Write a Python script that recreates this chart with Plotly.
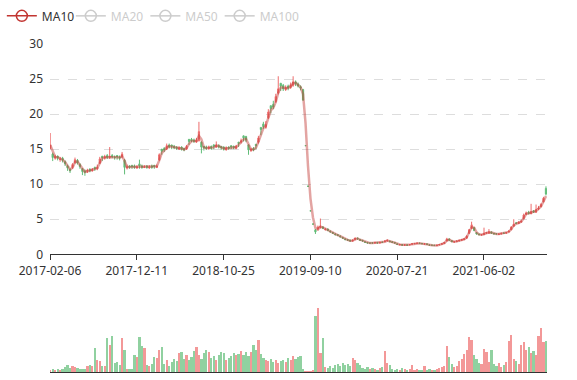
import plotly.graph_objects as go
import pandas as pd

# ---- data (every 6th trading day) ----
step = 6
n_days = 1203
label_index = [0, 210, 420, 630, 840, 1050]
label_text = ["2017-02-06", "2017-12-11", "2018-10-25", "2019-09-10", "2020-07-21", "2021-06-02"]

opens = [
    15.1, 14.3, 13.7, 14.0, 13.5, 13.7, 13.2, 12.6, 12.1, 12.4,
    13.1, 13.4, 12.8, 12.2, 11.9, 11.8, 12.1, 11.9, 12.4, 12.2,
    13.0, 14.0, 13.7, 14.1, 13.8, 14.1, 13.9, 14.1, 13.9, 13.9,
    13.4, 12.3, 12.6, 12.7, 12.6, 12.3, 12.9, 12.6, 12.4, 12.6,
    12.3, 12.6, 12.7, 12.4, 13.5, 15.0, 15.1, 15.0, 15.6, 15.6,
    15.4, 15.3, 15.0, 15.3, 15.1, 15.0, 16.4, 16.4, 16.3, 16.0,
    16.2, 16.0, 15.4, 15.3, 15.1, 15.4, 15.6, 15.3, 15.5, 15.4,
    15.3, 14.9, 15.3, 15.5, 15.4, 15.1, 16.0, 16.0, 16.9, 16.8,
    15.6, 14.8, 15.1, 15.7, 16.0, 18.1, 18.6, 18.1, 19.5, 21.2,
    21.4, 21.8, 23.0, 24.4, 24.1, 23.5, 24.0, 23.8, 24.1, 24.6,
    24.3, 23.9, 23.5, 15.5, 9.7, 6.2, 4.3, 3.5, 3.6, 3.8,
    3.9, 3.5, 3.6, 3.3, 3.1, 2.9, 2.8, 2.6, 2.4, 2.2,
    2.1, 2.0, 1.9, 2.1, 2.3, 2.1, 2.0, 1.8, 1.7, 1.6,
    1.65, 1.6, 1.7, 1.6, 1.75, 1.8, 1.9, 1.9, 1.8, 1.7,
    1.5, 1.35, 1.4, 1.3, 1.35, 1.35, 1.45, 1.5, 1.55, 1.6,
    1.55, 1.45, 1.5, 1.35, 1.3, 1.3, 1.25, 1.35, 1.45, 1.55,
    1.9, 2.2, 1.95, 1.75, 1.8, 1.9, 2.0, 2.1, 2.3, 3.0,
    3.7, 3.8, 3.1, 2.9, 2.75, 2.8, 3.0, 3.0, 3.2, 3.0,
    2.95, 2.85, 2.9, 3.05, 3.0, 3.2, 3.5, 4.0, 4.5, 4.4,
    4.6, 5.1, 5.7, 6.0, 5.8, 6.2, 6.0, 6.5, 6.8, 7.5,
    9.4,
]
closes = [
    15.6, 13.8, 14.0, 13.7, 13.6, 13.4, 12.9, 12.3, 11.9, 12.8,
    13.5, 13.0, 12.5, 11.8, 11.7, 12.0, 11.9, 12.1, 12.2, 12.4,
    13.6, 13.8, 13.9, 13.8, 14.0, 13.9, 13.8, 13.9, 13.7, 14.3,
    12.4, 12.5, 12.4, 12.5, 12.4, 12.5, 12.6, 12.4, 12.5, 12.4,
    12.5, 12.4, 12.5, 12.6, 14.2, 14.7, 14.9, 15.5, 15.3, 15.4,
    15.2, 15.1, 15.2, 15.0, 14.9, 15.4, 16.1, 16.2, 16.1, 16.3,
    17.5, 15.3, 15.2, 15.1, 15.3, 15.1, 15.4, 15.6, 15.3, 15.2,
    15.0, 15.2, 15.1, 15.3, 15.2, 15.4, 15.8, 16.2, 16.6, 16.3,
    14.9, 15.0, 14.9, 15.5, 16.6, 17.8, 18.2, 18.5, 20.3, 20.8,
    21.0, 22.5, 23.6, 24.0, 23.6, 23.8, 23.7, 24.2, 24.6, 24.3,
    24.0, 23.7, 22.0, 15.5, 9.7, 6.2, 4.3, 3.2, 3.9, 4.0,
    3.7, 3.6, 3.4, 3.2, 3.0, 2.8, 2.7, 2.5, 2.3, 2.1,
    2.0, 1.9, 2.0, 2.3, 2.2, 2.0, 1.9, 1.7, 1.6, 1.6,
    1.6, 1.7, 1.6, 1.7, 1.7, 1.9, 2.0, 1.8, 1.7, 1.6,
    1.4, 1.4, 1.3, 1.35, 1.3, 1.4, 1.5, 1.55, 1.6, 1.55,
    1.5, 1.5, 1.4, 1.3, 1.3, 1.25, 1.3, 1.4, 1.5, 1.7,
    2.2, 2.0, 1.8, 1.8, 1.9, 2.0, 2.1, 2.2, 2.6, 3.5,
    4.2, 3.4, 2.9, 2.8, 2.8, 3.0, 3.1, 3.2, 3.0, 2.9,
    2.9, 2.9, 3.0, 3.0, 3.1, 3.3, 3.9, 4.3, 4.4, 4.6,
    4.7, 5.6, 5.9, 5.8, 6.1, 6.0, 6.4, 6.6, 7.1, 8.0,
    8.6,
]
highs = [
    17.3, 14.5, 14.2, 14.1, 13.9, 13.9, 13.4, 12.8, 12.3, 13.0,
    13.8, 13.6, 13.0, 12.3, 12.1, 12.2, 12.3, 12.3, 12.5, 12.8,
    13.9, 14.0, 14.2, 14.3, 15.3, 14.3, 14.1, 14.1, 14.1, 14.6,
    13.6, 12.8, 12.7, 12.7, 12.8, 12.7, 13.5, 12.8, 12.7, 12.7,
    12.7, 12.8, 12.7, 12.8, 14.4, 15.0, 15.3, 15.8, 15.8, 15.6,
    15.6, 15.4, 15.4, 15.4, 15.2, 15.6, 16.4, 16.6, 16.5, 16.6,
    18.9, 16.1, 15.4, 15.5, 15.5, 15.5, 15.7, 16.1, 15.7, 15.4,
    15.4, 15.4, 15.4, 15.5, 15.5, 15.6, 16.0, 16.5, 16.9, 16.9,
    15.7, 15.2, 15.3, 15.7, 16.9, 18.1, 18.9, 19.0, 20.7, 21.2,
    21.9, 22.9, 25.4, 24.4, 24.3, 24.1, 24.2, 24.5, 25.4, 24.8,
    24.5, 24.1, 23.6, 15.5, 9.8, 6.2, 4.4, 3.6, 4.1, 5.1,
    4.0, 3.7, 3.7, 3.4, 3.2, 3.0, 2.9, 2.7, 2.5, 2.3,
    2.2, 2.1, 2.1, 2.4, 2.4, 2.2, 2.05, 1.85, 1.75, 1.7,
    1.7, 1.75, 1.75, 1.75, 1.8, 2.0, 2.1, 1.95, 1.85, 1.75,
    1.55, 1.45, 1.45, 1.4, 1.4, 1.45, 1.55, 1.6, 1.65, 1.65,
    1.6, 1.55, 1.55, 1.4, 1.35, 1.35, 1.35, 1.45, 1.55, 1.75,
    2.35, 2.25, 2.0, 1.85, 1.95, 2.05, 2.15, 2.3, 2.7, 3.6,
    4.65, 3.9, 3.15, 2.95, 2.9, 3.8, 3.2, 3.6, 3.25, 3.05,
    3.0, 2.95, 3.05, 3.1, 3.15, 3.4, 4.0, 5.0, 4.6, 4.7,
    4.9, 5.8, 6.1, 6.2, 7.2, 6.3, 7.1, 6.9, 7.3, 8.2,
    9.7,
]
lows = [
    15.0, 13.3, 13.5, 13.4, 13.2, 13.1, 12.6, 11.9, 11.6, 12.2,
    12.9, 12.8, 12.2, 11.3, 11.2, 11.6, 11.7, 11.8, 11.9, 12.0,
    12.9, 13.3, 13.5, 13.6, 13.6, 13.7, 13.5, 13.5, 13.4, 13.7,
    11.4, 12.1, 12.2, 12.2, 12.2, 12.2, 12.2, 12.2, 12.3, 12.2,
    12.2, 12.2, 12.2, 12.3, 13.3, 14.2, 14.6, 14.9, 15.1, 15.0,
    15.0, 14.9, 14.9, 14.8, 14.7, 14.9, 15.6, 16.0, 15.9, 15.9,
    16.1, 14.4, 14.8, 14.9, 14.9, 14.9, 15.0, 15.2, 15.1, 14.9,
    14.8, 14.8, 14.9, 15.0, 15.0, 15.0, 15.3, 15.8, 16.1, 16.0,
    14.2, 14.6, 14.7, 15.0, 15.8, 17.0, 17.9, 17.9, 19.3, 20.1,
    20.7, 21.6, 22.8, 23.3, 23.3, 23.3, 23.4, 23.6, 23.9, 24.0,
    23.8, 23.4, 21.9, 15.5, 9.6, 6.2, 4.3, 2.9, 3.4, 3.7,
    3.6, 3.4, 3.3, 3.1, 2.9, 2.7, 2.6, 2.4, 2.2, 2.0,
    1.9, 1.8, 1.85, 2.0, 2.1, 1.9, 1.8, 1.65, 1.55, 1.55,
    1.55, 1.55, 1.55, 1.55, 1.65, 1.75, 1.85, 1.75, 1.65, 1.55,
    1.35, 1.3, 1.25, 1.25, 1.25, 1.3, 1.4, 1.45, 1.5, 1.5,
    1.45, 1.4, 1.35, 1.25, 1.25, 1.2, 1.2, 1.3, 1.4, 1.5,
    1.85, 1.95, 1.75, 1.7, 1.75, 1.85, 1.95, 2.05, 2.25, 2.9,
    3.6, 3.3, 2.8, 2.7, 2.7, 2.75, 2.95, 2.95, 2.9, 2.85,
    2.85, 2.8, 2.85, 2.95, 2.95, 3.15, 3.45, 3.95, 4.3, 4.3,
    4.5, 5.0, 5.6, 5.7, 5.7, 5.9, 5.9, 6.3, 6.7, 7.4,
    8.4,
]
volumes = [
    2.5, 3, 2.5, 3, 2.5, 3, 5, 7, 4, 6,
    5, 4, 3, 3, 3, 6, 7, 6, 24, 12,
    11, 6, 6, 34, 27, 36, 9, 10, 7, 34,
    22, 3, 3, 3, 17, 15, 35, 26, 24, 7,
    6, 8, 15, 14, 22, 25, 8, 12, 6, 10,
    13, 11, 19, 20, 13, 17, 12, 15, 21, 25,
    17, 13, 19, 22, 20, 14, 16, 12, 17, 20,
    19, 12, 14, 16, 19, 17, 18, 21, 17, 20,
    16, 20, 27, 22, 32, 18, 14, 12, 11, 13,
    10, 12, 9, 11, 12, 10, 14, 12, 16, 13,
    15, 16, 3, 0.5, 0.5, 0.5, 2, 56, 64, 19,
    34, 5, 4, 6, 4, 7, 8, 6, 9, 7,
    8, 6, 14, 12, 9, 7, 4, 3, 5, 3,
    4, 3, 2, 4, 5, 21, 9, 7, 3, 2,
    3, 2, 4, 3, 2, 3, 7, 2, 3, 2,
    2, 6, 2, 3, 2, 2, 3, 4, 5, 6,
    26, 15, 8, 5, 6, 11, 13, 18, 22, 35,
    32, 17, 13, 9, 8, 23, 20, 10, 22, 8,
    6, 9, 5, 7, 10, 31, 37, 13, 11, 8,
    27, 30, 22, 25, 19, 21, 17, 36, 44, 30,
    31,
]
ma_names = ["MA10", "MA20", "MA50", "MA100"]

UP = "#eb5454"
DOWN = "#47b262"

x = [i * step for i in range(len(closes))]
close_s = pd.Series(closes)
ma10 = close_s.rolling(2, min_periods=1).mean()   # 10-day MA on 6-day sampled data
ma_others = [close_s.rolling(w, min_periods=1).mean() for w in (3, 8, 17)]
vol_colors = [UP if c >= o else DOWN for o, c in zip(opens, closes)]

fig = go.Figure()
fig.add_trace(go.Candlestick(
    x=x, open=opens, high=highs, low=lows, close=closes,
    increasing=dict(line=dict(color=UP, width=1), fillcolor=UP),
    decreasing=dict(line=dict(color=DOWN, width=1), fillcolor=DOWN),
    opacity=0.85, showlegend=False, name="K", xaxis="x", yaxis="y"))
fig.add_trace(go.Scatter(
    x=x, y=ma10, mode="lines", line=dict(color="rgba(194,53,49,0.45)", width=2.5),
    legendgroup="ma10", showlegend=False, name="MA10", xaxis="x", yaxis="y"))
# legend entries (one legend per entry so they can be spaced like the original)
fig.add_trace(go.Scatter(
    x=[None], y=[None], mode="lines+markers", name=ma_names[0], legendgroup="ma10",
    legend="legend",
    line=dict(color="#c23531", width=1.5),
    marker=dict(symbol="circle-open", size=11, color="#c23531", line=dict(width=1.5))))
legend_ids = ["legend2", "legend3", "legend4"]
for nm, s, lg in zip(ma_names[1:], ma_others, legend_ids):
    fig.add_trace(go.Scatter(
        x=x, y=s, mode="lines+markers", visible="legendonly", legend=lg,
        name=f"<span style='color:#999999'>{nm}</span>",
        line=dict(color="#999999", width=1.5),
        marker=dict(symbol="circle-open", size=11, color="#999999", line=dict(width=1.5)),
        xaxis="x", yaxis="y"))
fig.add_trace(go.Bar(
    x=x, y=volumes, marker=dict(color=vol_colors, line=dict(width=0)), opacity=0.6,
    width=step * 0.9, showlegend=False, name="Volume", xaxis="x2", yaxis="y2"))

font = dict(family="Noto Sans, sans-serif", size=12, color="#333333")
leg_common = dict(orientation="h", y=1.13, xanchor="left", yanchor="top",
                  font=dict(family="Noto Sans, sans-serif", size=12, color="#333333"),
                  itemwidth=30, bgcolor="rgba(0,0,0,0)", itemclick=False, itemdoubleclick=False)
fig.update_layout(
    width=577, height=380,
    margin=dict(l=50, r=30, t=44, b=8, autoexpand=False),
    paper_bgcolor="white", plot_bgcolor="white",
    font=font, bargap=0,
    showlegend=True,
    legend=dict(x=-0.0969, **leg_common),
    legend2=dict(x=0.0419, **leg_common),
    legend3=dict(x=0.1919, **leg_common),
    legend4=dict(x=0.3414, **leg_common),
    xaxis=dict(domain=[0, 1], range=[-0.5, n_days - 0.5], anchor="y",
               tickmode="array", tickvals=[i - 0.5 for i in label_index], ticktext=label_text,
               ticks="outside", ticklen=5, tickcolor="#333333", showline=True,
               linecolor="#333333", linewidth=1, showgrid=False, zeroline=False,
               rangeslider=dict(visible=False)),
    yaxis=dict(domain=[0.3588, 1], range=[0, 30], dtick=5, anchor="x",
               showgrid=True, gridcolor="#dddddd", griddash="dash", gridwidth=1,
               zeroline=False, showline=False, ticks="", ticklabelstandoff=6),
    xaxis2=dict(domain=[0, 1], range=[-0.5, n_days - 0.5], anchor="y2", matches="x",
                showticklabels=False, ticks="", showline=True, linecolor="#333333",
                showgrid=False, zeroline=False),
    yaxis2=dict(domain=[0, 0.22], range=[0, 72.5], anchor="x2", showticklabels=False,
                showgrid=False, zeroline=False, showline=False, ticks=""),
)
fig.write_html("out.html", config={"displayModeBar": False},
               post_script="document.body.style.margin='0px';")
